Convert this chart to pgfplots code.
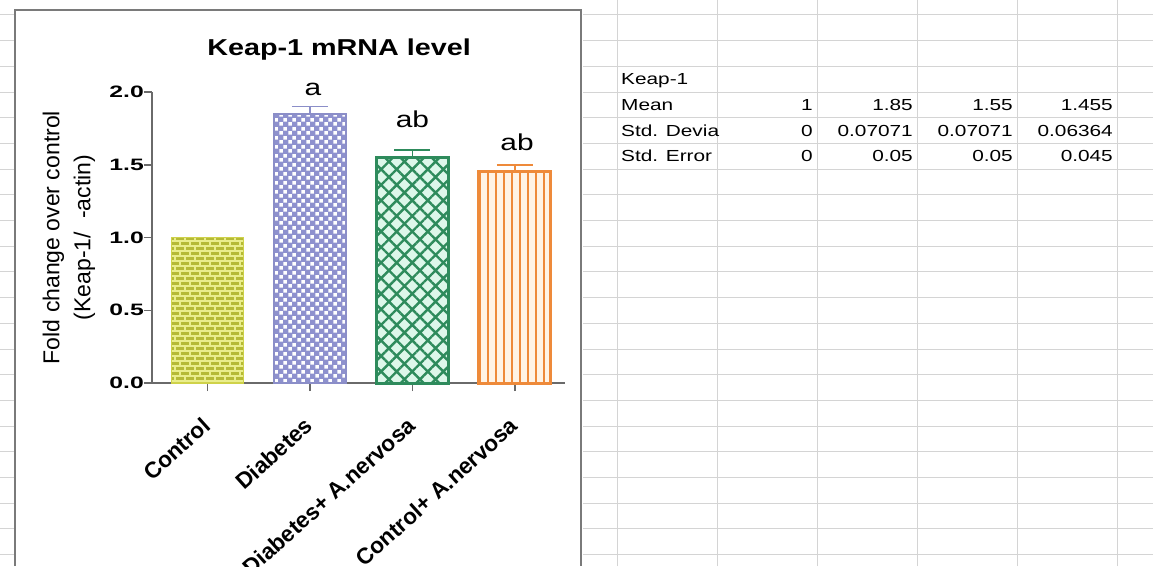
\documentclass[border=0pt]{standalone}
\usepackage{pgfplots}
\pgfplotsset{compat=1.18}
\usepackage{fontspec}
\setmainfont{Liberation Sans}
\usepackage{graphicx}
\usetikzlibrary{patterns,patterns.meta}

\definecolor{gridc}{HTML}{D4D4D4}
\definecolor{panelc}{HTML}{7A7A7A}
\definecolor{axisc}{HTML}{6A6A6A}
\definecolor{olivef}{HTML}{B5BA36}
\definecolor{olivel}{HTML}{E9ED8C}
\definecolor{olivee}{HTML}{CFD24A}
\definecolor{lavf}{HTML}{8E91CE}
\definecolor{lave}{HTML}{8B8EC8}
\definecolor{greenl}{HTML}{2E8B5C}
\definecolor{greenf}{HTML}{DDF7EA}
\definecolor{orl}{HTML}{EE8A3A}
\definecolor{orf}{HTML}{FFF3E5}

\pgfdeclarepatternformonly{mybricks}{\pgfqpoint{-1pt}{-1pt}}{\pgfqpoint{11pt}{11pt}}{\pgfqpoint{10pt}{10pt}}{%
  \pgfsetlinewidth{1.2pt}%
  \pgfpathmoveto{\pgfqpoint{0pt}{0pt}}\pgfpathlineto{\pgfqpoint{10pt}{0pt}}%
  \pgfpathmoveto{\pgfqpoint{0pt}{5pt}}\pgfpathlineto{\pgfqpoint{10pt}{5pt}}%
  \pgfpathmoveto{\pgfqpoint{0pt}{0pt}}\pgfpathlineto{\pgfqpoint{0pt}{5pt}}%
  \pgfpathmoveto{\pgfqpoint{5pt}{5pt}}\pgfpathlineto{\pgfqpoint{5pt}{10pt}}%
  \pgfusepath{stroke}}

\pgfdeclarepatternformonly{mycheck}{\pgfqpoint{0pt}{0pt}}{\pgfqpoint{9pt}{9pt}}{\pgfqpoint{9pt}{9pt}}{%
  \pgfpathrectangle{\pgfqpoint{0.4pt}{0.4pt}}{\pgfqpoint{3.8pt}{3.8pt}}%
  \pgfpathrectangle{\pgfqpoint{4.9pt}{4.9pt}}{\pgfqpoint{3.8pt}{3.8pt}}%
  \pgfusepath{fill}}

\newcommand{\tabfont}{\fontsize{16}{16}\selectfont}
\newcommand{\tx}[1]{\scalebox{1.3}[1]{#1}}

\begin{document}
\begin{tikzpicture}[x=1pt,y=1pt]
\path[use as bounding box] (0,0) rectangle (1153,566);
\fill[white] (0,0) rectangle (1153,566);
% spreadsheet grid
\foreach \k in {-3,...,18} {
  \pgfmathsetmacro{\yy}{566-(92+25.7*\k)}
  \draw[gridc, line width=0.9pt] (583,\yy) -- (1153,\yy);
  \draw[gridc, line width=0.9pt] (0,\yy) -- (15,\yy);
}
\foreach \xx in {617,717,817,917,1017,1117} {
  \draw[gridc, line width=0.9pt] (\xx,0) -- (\xx,566);
}
% panel
\fill[white] (15,0) rectangle (581,556);
\draw[panelc, line width=2pt] (15,0) -- (15,556) -- (581,556) -- (581,0);

% table text
\begin{scope}[every node/.style={inner sep=0pt, font=\tabfont}]
\node[anchor=base west] at (621,{566-85}) {\tx{Keap-1}};
\node[anchor=base west] at (621,{566-111}) {\tx{Mean}};
\node[anchor=base west] at (621,{566-136.5}) {\tx{Std. Devia}};
\node[anchor=base west] at (621,{566-162}) {\tx{Std. Error}};
\node[anchor=base east] at (813,{566-111}) {\tx{1}};
\node[anchor=base east] at (913,{566-111}) {\tx{1.85}};
\node[anchor=base east] at (1013,{566-111}) {\tx{1.55}};
\node[anchor=base east] at (1113,{566-111}) {\tx{1.455}};
\node[anchor=base east] at (813,{566-136.5}) {\tx{0}};
\node[anchor=base east] at (913,{566-136.5}) {\tx{0.07071}};
\node[anchor=base east] at (1013,{566-136.5}) {\tx{0.07071}};
\node[anchor=base east] at (1113,{566-136.5}) {\tx{0.06364}};
\node[anchor=base east] at (813,{566-162}) {\tx{0}};
\node[anchor=base east] at (913,{566-162}) {\tx{0.05}};
\node[anchor=base east] at (1013,{566-162}) {\tx{0.05}};
\node[anchor=base east] at (1113,{566-162}) {\tx{0.045}};
\end{scope}

\begin{axis}[
  at={(152pt,183pt)}, anchor=south west,
  scale only axis, width=413pt, height=291pt,
  xmin=-0.541, xmax=3.488, ymin=0, ymax=2,
  axis x line*=bottom, axis y line*=left,
  axis line style={draw=axisc, line width=1.8pt},
  tick align=outside, major tick length=8pt,
  tick style={draw=axisc, line width=1.5pt},
  xtick={0,1,2,3},
  xticklabels={Control, Diabetes, Diabetes+ A.nervosa, Control+ A.nervosa},
  xticklabel style={xshift=-1pt, yshift=-31pt, rotate=42, anchor=east, inner sep=0pt,
    font=\fontsize{22.5}{22.5}\selectfont\bfseries},
  ytick={0,0.5,1,1.5,2},
  yticklabels={\scalebox{1.5}[1]{0.0},\scalebox{1.5}[1]{0.5},\scalebox{1.5}[1]{1.0},\scalebox{1.5}[1]{1.5},\scalebox{1.5}[1]{2.0}},
  yticklabel style={font=\fontsize{16.5}{16.5}\selectfont\bfseries, anchor=east, inner sep=0pt, xshift=0pt},
  ylabel={Fold change over control\\(Keap-1/\hspace{13pt}-actin)},
  ylabel style={at={(axis description cs:-0.201,0.5)}, anchor=center, align=center,
    font=\fontsize{23}{31}\selectfont},
  title={\scalebox{1.25}[1]{Keap-1 mRNA level}},
  title style={at={(axis description cs:0.453,1.105)}, anchor=base, inner sep=0pt, yshift=0pt,
    font=\fontsize{23}{23}\selectfont\bfseries},
  clip=false,
  ybar, bar width=72pt,
]
\addplot[bar shift=0pt, fill=olivef, draw=olivee, line width=1.2pt,
  postaction={pattern=mybricks, pattern color=olivel}]
  coordinates {(0,1)};
\addplot[bar shift=0pt, fill=lavf, draw=lave, line width=2pt,
  postaction={pattern=mycheck, pattern color=white},
  error bars/.cd, y dir=plus, y explicit,
  error bar style={line width=1.5pt, draw=lave},
  error mark options={rotate=90, draw=lave, line width=1.5pt, mark size=18pt}]
  coordinates {(1,1.85) +- (0,0.05)};
\addplot[bar shift=0pt, fill=greenf, draw=greenl, line width=3pt,
  postaction={pattern={Hatch[angle=45, distance=11pt, line width=2.4pt]}, pattern color=greenl},
  error bars/.cd, y dir=plus, y explicit,
  error bar style={line width=1.5pt, draw=greenl},
  error mark options={rotate=90, draw=greenl, line width=1.5pt, mark size=18pt}]
  coordinates {(2,1.55) +- (0,0.05)};
\addplot[bar shift=0pt, fill=orf, draw=orl, line width=3pt,
  postaction={pattern={Lines[angle=90, distance=8pt, line width=1.3pt]}, pattern color=orl},
  error bars/.cd, y dir=plus, y explicit,
  error bar style={line width=1.5pt, draw=orl},
  error mark options={rotate=90, draw=orl, line width=1.5pt, mark size=18pt}]
  coordinates {(3,1.455) +- (0,0.045)};
\node[anchor=base, font=\fontsize{23}{23}\selectfont] at (axis cs:1.03,1.976) {\scalebox{1.3}[1]{a}};
\node[anchor=base, font=\fontsize{23}{23}\selectfont] at (axis cs:2,1.753) {\scalebox{1.3}[1]{ab}};
\node[anchor=base, font=\fontsize{23}{23}\selectfont] at (axis cs:3.02,1.601) {\scalebox{1.3}[1]{ab}};
\end{axis}
\end{tikzpicture}
\end{document}
